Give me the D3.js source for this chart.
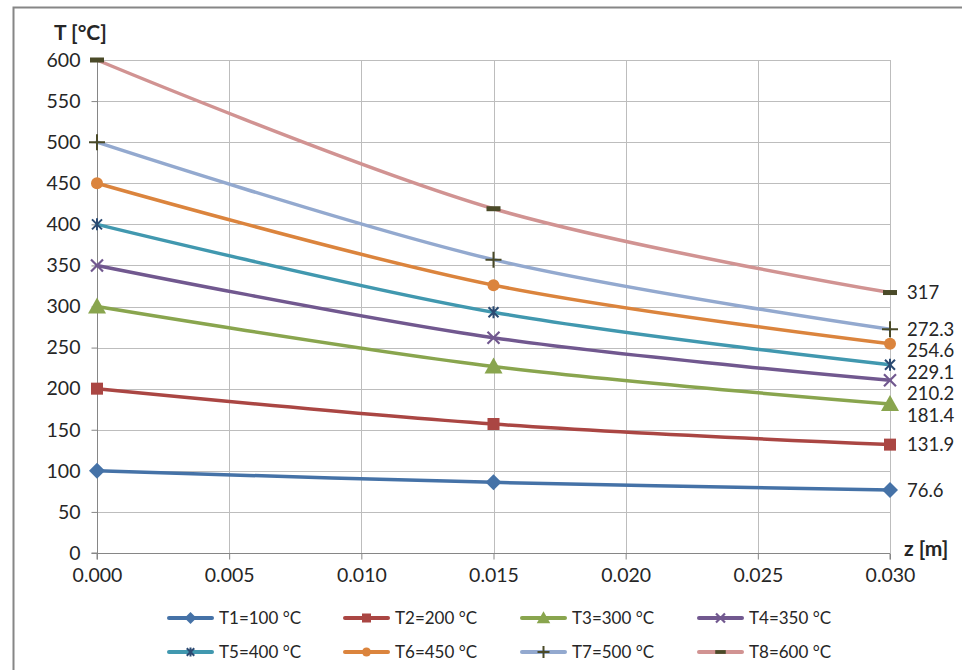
<!DOCTYPE html>
<html><head><meta charset="utf-8">
<script src="https://cdn.jsdelivr.net/npm/d3@7"></script>
<style>
html,body{margin:0;padding:0;background:#fff;}
svg{display:block;}
text{font-family:Lato,"Open Sans",sans-serif;fill:#262626;}
</style></head>
<body>
<svg id="chart" width="962" height="670"></svg>
<script>
const zValues = [0, 0.015, 0.030];
const seriesNames = ["T1=100 °C","T2=200 °C","T3=300 °C","T4=350 °C","T5=400 °C","T6=450 °C","T7=500 °C","T8=600 °C"];
const T1 = [100, 86, 76.6];
const T2 = [200, 157, 131.9];
const T3 = [300, 227, 181.4];
const T4 = [350, 262, 210.2];
const T5 = [400, 293, 229.1];
const T6 = [450, 326, 254.6];
const T7 = [500, 357, 272.3];
const T8 = [600, 419, 317];
const endLabels = ["76.6","131.9","181.4","210.2","229.1","254.6","272.3","317"];
const xTicks = [0, 0.005, 0.010, 0.015, 0.020, 0.025, 0.030];
const yTicks = [0,50,100,150,200,250,300,350,400,450,500,550,600];

const allSeries = [T1,T2,T3,T4,T5,T6,T7,T8];
const colors = ["#4572A7","#AA4643","#89A54E","#71588F","#4198AF","#DB843D","#93A9CF","#D19392"];
const markers = ["diamond","square","triangle","x","star","circle","plus","dash"];
const markerColors = ["#4572A7","#AA4643","#89A54E","#71588F","#2B4A72","#DB843D","#4A4A28","#4A4A28"];

const svg = d3.select("#chart");
svg.append("path").attr("d","M13.5,680 V7.5 H970").attr("fill","none").attr("stroke","#868686").attr("stroke-width",2);

const x = d3.scaleLinear().domain([0,0.03]).range([97,890]);
const y = d3.scaleLinear().domain([0,600]).range([553,60]);

const grid = svg.append("g");
grid.selectAll("line.h").data(yTicks.filter(d=>d>0)).join("line")
  .attr("x1",x(0)).attr("x2",x(0.03)).attr("y1",d=>Math.round(y(d))+0.5).attr("y2",d=>Math.round(y(d))+0.5)
  .attr("stroke","#BDBDBD").attr("stroke-width",1);
grid.selectAll("line.v").data(xTicks.filter(d=>d>0)).join("line")
  .attr("y1",y(0)).attr("y2",y(600)).attr("x1",d=>Math.round(x(d))+0.5).attr("x2",d=>Math.round(x(d))+0.5)
  .attr("stroke","#BDBDBD").attr("stroke-width",1);

const yAxis = d3.axisLeft(y).tickValues(yTicks).tickSize(6).tickPadding(11).tickFormat(d3.format("d"));
const gy = svg.append("g").attr("transform",`translate(${Math.round(x(0))+0.5},0)`).call(yAxis);
const xAxis = d3.axisBottom(x).tickValues(xTicks).tickSize(6).tickPadding(9).tickFormat(d3.format(".3f"));
const gx = svg.append("g").attr("transform",`translate(0,${Math.round(y(0))+0.5})`).call(xAxis);
[gy,gx].forEach(g=>{
  g.select(".domain").attr("stroke","#868686");
  g.selectAll(".tick line").attr("stroke","#868686");
  g.selectAll(".tick text").attr("font-size",19.5).attr("fill","#262626").attr("font-family","Lato");
});
gy.select(".domain").attr("d",`M-6,${y(0)}H0V${y(600)}H-6`);
gx.select(".domain").attr("d",`M${x(0)},6V0H${x(0.03)}V6`);

svg.append("text").attr("x",54).attr("y",40).attr("font-size",21).attr("font-weight","bold").text("T [°C]");
svg.append("text").attr("x",904).attr("y",556).attr("font-size",21).attr("font-weight","bold").text("z [m]");

const line = d3.line().x(d=>x(d[0])).y(d=>y(d[1])).curve(d3.curveCatmullRom.alpha(0));
const plot = svg.append("g");
allSeries.forEach((s,i)=>{
  plot.append("path").datum(s.map((v,j)=>[zValues[j],v]))
    .attr("d",line).attr("fill","none").attr("stroke",colors[i]).attr("stroke-width",3.5).attr("stroke-linecap","round");
});

function drawMarker(g, type, cx, cy, color, scale){
  const s = scale||1;
  switch(type){
    case "diamond": g.append("path").attr("d",`M${cx},${cy-8*s}L${cx+8*s},${cy}L${cx},${cy+8*s}L${cx-8*s},${cy}Z`).attr("fill",color); break;
    case "square": g.append("rect").attr("x",cx-6*s).attr("y",cy-6*s).attr("width",12*s).attr("height",12*s).attr("fill",color); break;
    case "triangle": g.append("path").attr("d",`M${cx},${cy-9*s}L${cx+9*s},${cy+7*s}L${cx-9*s},${cy+7*s}Z`).attr("fill",color); break;
    case "x": g.append("path").attr("d",`M${cx-6*s},${cy-6*s}L${cx+6*s},${cy+6*s}M${cx+6*s},${cy-6*s}L${cx-6*s},${cy+6*s}`).attr("stroke",color).attr("stroke-width",2.2); break;
    case "star": g.append("path").attr("d",`M${cx-5*s},${cy-5*s}L${cx+5*s},${cy+5*s}M${cx+5*s},${cy-5*s}L${cx-5*s},${cy+5*s}M${cx},${cy-6*s}L${cx},${cy+6*s}`).attr("stroke",color).attr("stroke-width",2); break;
    case "circle": g.append("circle").attr("cx",cx).attr("cy",cy).attr("r",6*s).attr("fill",color); break;
    case "plus": g.append("path").attr("d",`M${cx-8*s},${cy}L${cx+8*s},${cy}M${cx},${cy-8*s}L${cx},${cy+8*s}`).attr("stroke",color).attr("stroke-width",2); break;
    case "dash": g.append("rect").attr("x",cx-7*s).attr("y",cy-2.5*s).attr("width",14*s).attr("height",5*s).attr("fill",color); break;
  }
}
allSeries.forEach((s,i)=>{
  s.forEach((v,j)=>drawMarker(plot, markers[i], x(zValues[j]), y(v), markerColors[i], 1));
});

const lastIdx = zValues.length-1;
let lab = allSeries.map((s,i)=>({t:endLabels[i], y:y(s[lastIdx])})).sort((a,b)=>a.y-b.y);
for(let k=1;k<lab.length;k++){ if(lab[k].y - lab[k-1].y < 21.5) lab[k].y = lab[k-1].y + 21.5; }
svg.append("g").selectAll("text").data(lab).join("text")
  .attr("x",x(0.03)+17).attr("y",d=>d.y).attr("dy","0.35em").attr("font-size",18.5).text(d=>d.t);

const legCols = [169,345,522,699];
const legRows = [618,652];
const leg = svg.append("g");
seriesNames.forEach((n,i)=>{
  const cx = legCols[i%4], cy = legRows[Math.floor(i/4)];
  leg.append("line").attr("x1",cx).attr("x2",cx+43).attr("y1",cy).attr("y2",cy)
    .attr("stroke",colors[i]).attr("stroke-width",4).attr("stroke-linecap","round");
  drawMarker(leg, markers[i], cx+21.5, cy, markerColors[i], 0.75);
  leg.append("text").attr("x",cx+50).attr("y",cy).attr("dy","0.35em").attr("font-size",17).text(n);
});
</script>
</body></html>
